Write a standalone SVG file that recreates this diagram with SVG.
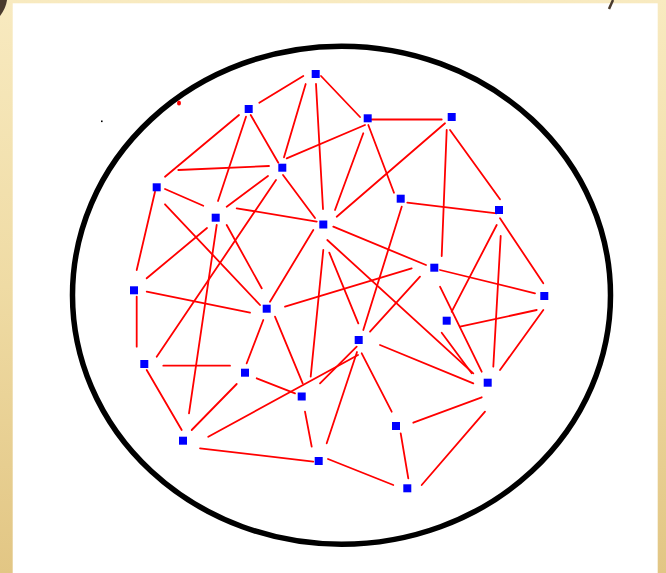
<svg xmlns="http://www.w3.org/2000/svg" width="666" height="573" viewBox="0 0 666 573">
<defs>
<linearGradient id="gold" x1="0" y1="0" x2="0" y2="1">
<stop offset="0" stop-color="#f8eac0"/>
<stop offset="0.5" stop-color="#efdba4"/>
<stop offset="1" stop-color="#e2c684"/>
</linearGradient>
<style>
.edge{stroke:#ff0000;stroke-width:1.8;stroke-linecap:round;fill:none}
.node rect{fill:#0000ff}
</style>
</defs>
<rect x="0" y="0" width="666" height="573" fill="url(#gold)"/>
<rect x="12.7" y="3.3" width="645" height="570" fill="#ffffff"/>
<path d="M0,0 L7,0 Q6,8 0,16 Z" fill="#4a3b2e"/>
<path d="M613,0 L609,9" stroke="#4a3b2e" stroke-width="2.5" fill="none"/>
<ellipse cx="341.5" cy="295.2" rx="269" ry="249" fill="none" stroke="#000000" stroke-width="5.5"/>
<ellipse cx="179" cy="103" rx="2" ry="2.5" fill="#ff0000"/>
<rect x="101" y="120.5" width="1.6" height="1.6" fill="#000000"/>
<g id="connectors">
<line class="edge" x1="303.3" y1="76" x2="259.3" y2="102.7"/>
<line class="edge" x1="305.7" y1="84" x2="284" y2="157.3"/>
<line class="edge" x1="316" y1="84" x2="323" y2="209"/>
<line class="edge" x1="321" y1="76" x2="360" y2="117"/>
<line class="edge" x1="371.7" y1="119.5" x2="441.7" y2="119.5"/>
<line class="edge" x1="365" y1="125" x2="286.7" y2="158.3"/>
<line class="edge" x1="363.3" y1="133.3" x2="335" y2="210"/>
<line class="edge" x1="368.3" y1="125" x2="394" y2="192.7"/>
<line class="edge" x1="445" y1="123.3" x2="336.7" y2="216.7"/>
<line class="edge" x1="446.7" y1="130" x2="441.7" y2="256"/>
<line class="edge" x1="450" y1="130" x2="500" y2="199.3"/>
<line class="edge" x1="407.3" y1="202.7" x2="496.7" y2="213.3"/>
<line class="edge" x1="496.7" y1="225" x2="451.7" y2="311.7"/>
<line class="edge" x1="500" y1="218.3" x2="543.3" y2="283.3"/>
<line class="edge" x1="500.7" y1="236" x2="493.3" y2="366.7"/>
<line class="edge" x1="250.7" y1="115" x2="278.3" y2="162.7"/>
<line class="edge" x1="239" y1="115" x2="165" y2="176.7"/>
<line class="edge" x1="246" y1="116.7" x2="218" y2="201"/>
<line class="edge" x1="178.3" y1="170" x2="269" y2="166"/>
<line class="edge" x1="268" y1="176" x2="226.7" y2="206.7"/>
<line class="edge" x1="283" y1="175" x2="315" y2="218"/>
<line class="edge" x1="276" y1="180" x2="156.7" y2="356.7"/>
<line class="edge" x1="165" y1="189" x2="203.3" y2="205.7"/>
<line class="edge" x1="236.7" y1="208.3" x2="316.7" y2="221.7"/>
<line class="edge" x1="155" y1="191.7" x2="136.7" y2="270"/>
<line class="edge" x1="165" y1="204.3" x2="260" y2="305"/>
<line class="edge" x1="207" y1="228" x2="146.7" y2="278.3"/>
<line class="edge" x1="226.7" y1="225" x2="261.7" y2="288.3"/>
<line class="edge" x1="216.7" y1="225" x2="189" y2="413.3"/>
<line class="edge" x1="313.3" y1="230" x2="270" y2="301.7"/>
<line class="edge" x1="323.3" y1="250" x2="310.7" y2="376.7"/>
<line class="edge" x1="329.3" y1="252.7" x2="358.3" y2="323.3"/>
<line class="edge" x1="327.3" y1="240" x2="473.3" y2="373.3"/>
<line class="edge" x1="333.3" y1="226.7" x2="426" y2="265"/>
<line class="edge" x1="440" y1="270" x2="535" y2="293.3"/>
<line class="edge" x1="285" y1="306.7" x2="411.7" y2="268.3"/>
<line class="edge" x1="401.7" y1="206.7" x2="363.3" y2="330"/>
<line class="edge" x1="420" y1="276.7" x2="370" y2="331.7"/>
<line class="edge" x1="440" y1="286.7" x2="481.7" y2="371.7"/>
<line class="edge" x1="460" y1="326.7" x2="536.7" y2="310"/>
<line class="edge" x1="543.3" y1="310" x2="500" y2="370"/>
<line class="edge" x1="441.7" y1="332.7" x2="471.7" y2="373.3"/>
<line class="edge" x1="380" y1="345" x2="473.3" y2="383.3"/>
<line class="edge" x1="361.7" y1="353.3" x2="391.7" y2="411.7"/>
<line class="edge" x1="356.7" y1="346.7" x2="320" y2="383.3"/>
<line class="edge" x1="358" y1="355" x2="208.3" y2="436.7"/>
<line class="edge" x1="357" y1="352" x2="326.7" y2="443.3"/>
<line class="edge" x1="413.3" y1="422.7" x2="481.7" y2="397.3"/>
<line class="edge" x1="485" y1="411.7" x2="421.7" y2="485"/>
<line class="edge" x1="400.7" y1="433.3" x2="408.3" y2="478.3"/>
<line class="edge" x1="328" y1="459" x2="393.3" y2="485"/>
<line class="edge" x1="146.7" y1="291.7" x2="250" y2="312.7"/>
<line class="edge" x1="136.7" y1="296.7" x2="136.7" y2="346.7"/>
<line class="edge" x1="163.3" y1="365.7" x2="230" y2="365.7"/>
<line class="edge" x1="146.7" y1="370" x2="181.7" y2="430"/>
<line class="edge" x1="263.3" y1="320" x2="246.7" y2="363.3"/>
<line class="edge" x1="275" y1="316.7" x2="302.7" y2="383.3"/>
<line class="edge" x1="236.7" y1="384" x2="191.7" y2="430"/>
<line class="edge" x1="256.7" y1="378.3" x2="295" y2="393.3"/>
<line class="edge" x1="200" y1="448.3" x2="313.3" y2="461.7"/>
<line class="edge" x1="305" y1="411.7" x2="311.7" y2="446.7"/>
</g>
<g id="node-A" class="node"><rect x="311.7" y="70" width="8" height="8"/></g>
<g id="node-B" class="node"><rect x="244.7" y="105" width="8" height="8"/></g>
<g id="node-C" class="node"><rect x="363.7" y="114.3" width="8" height="8"/></g>
<g id="node-D" class="node"><rect x="447.7" y="113" width="8" height="8"/></g>
<g id="node-E" class="node"><rect x="278.3" y="163.7" width="8" height="8"/></g>
<g id="node-F" class="node"><rect x="152.7" y="183.3" width="8" height="8"/></g>
<g id="node-G" class="node"><rect x="396.7" y="194.7" width="8" height="8"/></g>
<g id="node-H" class="node"><rect x="495" y="206" width="8" height="8"/></g>
<g id="node-I" class="node"><rect x="211.7" y="213.7" width="8" height="8"/></g>
<g id="node-J" class="node"><rect x="319.3" y="220.5" width="8" height="8"/></g>
<g id="node-K" class="node"><rect x="430.3" y="263.7" width="8" height="8"/></g>
<g id="node-L" class="node"><rect x="130" y="286.3" width="8" height="8"/></g>
<g id="node-M" class="node"><rect x="540.3" y="292" width="8" height="8"/></g>
<g id="node-N" class="node"><rect x="262.7" y="304.7" width="8" height="8"/></g>
<g id="node-O" class="node"><rect x="442.7" y="316.7" width="8" height="8"/></g>
<g id="node-P" class="node"><rect x="354.7" y="336" width="8" height="8"/></g>
<g id="node-Q" class="node"><rect x="140.3" y="360" width="8" height="8"/></g>
<g id="node-R" class="node"><rect x="241" y="368.7" width="8" height="8"/></g>
<g id="node-S" class="node"><rect x="483.7" y="378.7" width="8" height="8"/></g>
<g id="node-T" class="node"><rect x="297.7" y="392.5" width="8" height="8"/></g>
<g id="node-U" class="node"><rect x="392" y="422" width="8" height="8"/></g>
<g id="node-V" class="node"><rect x="179" y="436.7" width="8" height="8"/></g>
<g id="node-W" class="node"><rect x="314.7" y="457" width="8" height="8"/></g>
<g id="node-X" class="node"><rect x="403.3" y="484.3" width="8" height="8"/></g>
</svg>
